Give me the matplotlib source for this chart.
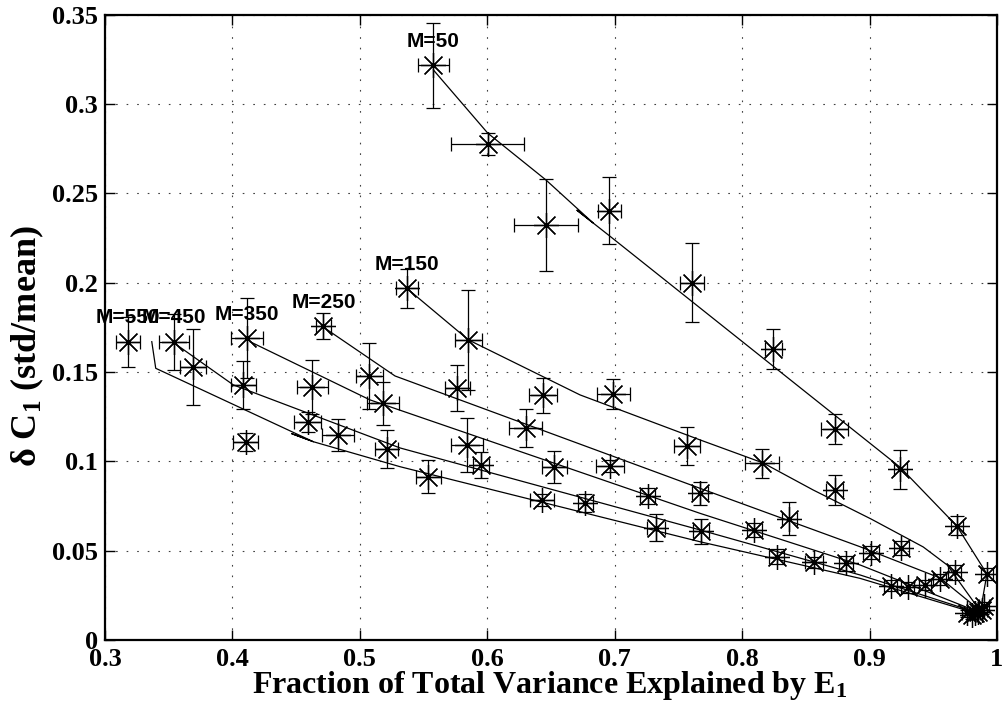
import numpy as np
import matplotlib
matplotlib.use("Agg")
import matplotlib.pyplot as plt

plt.rcParams["font.family"] = ["Liberation Serif", "DejaVu Serif"]
plt.rcParams["font.weight"] = "bold"
plt.rcParams["mathtext.fontset"] = "custom"
plt.rcParams["mathtext.rm"] = "Liberation Serif:bold"
plt.rcParams["mathtext.bf"] = "Liberation Serif:bold"
plt.rcParams["mathtext.default"] = "bf"

# window sizes
M_VALUES = [50, 150, 250, 350, 450, 550]

# measured points: fraction explained by E1, delta C1, and their spreads
m50_x = [0.5577, 0.6004, 0.6459, 0.6959, 0.7605, 0.8246, 0.8725, 0.9240, 0.9685, 0.9920, 0.9900]
m50_y = [0.3216, 0.2777, 0.2324, 0.2404, 0.2001, 0.1629, 0.1180, 0.0955, 0.0640, 0.0370, 0.0190]
m50_xerr = [0.0124, 0.0288, 0.0249, 0.0094, 0.0092, 0.0065, 0.0107, 0.0052, 0.0045, 0.0045, 0.0040]
m50_yerr = [0.0236, 0.0060, 0.0258, 0.0188, 0.0221, 0.0113, 0.0085, 0.0110, 0.0053, 0.0033, 0.0020]

m150_x = [0.5368, 0.5852, 0.6440, 0.6990, 0.7565, 0.8154, 0.8725, 0.9248, 0.9667, 0.9880]
m150_y = [0.1969, 0.1680, 0.1369, 0.1377, 0.1088, 0.0989, 0.0840, 0.0515, 0.0378, 0.0168]
m150_xerr = [0.0088, 0.0105, 0.0109, 0.0131, 0.0101, 0.0134, 0.0063, 0.0060, 0.0050, 0.0040]
m150_yerr = [0.0110, 0.0282, 0.0098, 0.0083, 0.0107, 0.0082, 0.0082, 0.0040, 0.0042, 0.0020]

m250_x = [0.4714, 0.5075, 0.5766, 0.6301, 0.6964, 0.7670, 0.8371, 0.9013, 0.9549, 0.9854]
m250_y = [0.1758, 0.1478, 0.1413, 0.1185, 0.0974, 0.0821, 0.0680, 0.0489, 0.0340, 0.0159]
m250_xerr = [0.0060, 0.0108, 0.0098, 0.0127, 0.0110, 0.0061, 0.0060, 0.0065, 0.0050, 0.0040]
m250_yerr = [0.0075, 0.0183, 0.0129, 0.0107, 0.0035, 0.0063, 0.0090, 0.0038, 0.0030, 0.0020]

m350_x = [0.4112, 0.4627, 0.5180, 0.5838, 0.6527, 0.7259, 0.8094, 0.8814, 0.9436, 0.9828]
m350_y = [0.1689, 0.1418, 0.1325, 0.1092, 0.0970, 0.0806, 0.0616, 0.0429, 0.0308, 0.0153]
m350_xerr = [0.0124, 0.0124, 0.0126, 0.0126, 0.0098, 0.0059, 0.0059, 0.0056, 0.0050, 0.0040]
m350_yerr = [0.0224, 0.0152, 0.0120, 0.0152, 0.0090, 0.0047, 0.0039, 0.0040, 0.0030, 0.0020]

m450_x = [0.3542, 0.4086, 0.4591, 0.5211, 0.5951, 0.6768, 0.7678, 0.8565, 0.9300, 0.9803]
m450_y = [0.1670, 0.1428, 0.1222, 0.1070, 0.0980, 0.0765, 0.0610, 0.0435, 0.0295, 0.0140]
m450_xerr = [0.0119, 0.0095, 0.0105, 0.0090, 0.0060, 0.0059, 0.0063, 0.0072, 0.0050, 0.0040]
m450_yerr = [0.0157, 0.0135, 0.0057, 0.0107, 0.0075, 0.0050, 0.0070, 0.0030, 0.0030, 0.0020]

m550_x = [0.3178, 0.3688, 0.4104, 0.4826, 0.5538, 0.6427, 0.7325, 0.8272, 0.9167, 0.9765]
m550_y = [0.1670, 0.1527, 0.1110, 0.1148, 0.0914, 0.0784, 0.0629, 0.0467, 0.0304, 0.0149]
m550_xerr = [0.0094, 0.0102, 0.0100, 0.0127, 0.0095, 0.0094, 0.0069, 0.0060, 0.0050, 0.0040]
m550_yerr = [0.0140, 0.0212, 0.0050, 0.0090, 0.0093, 0.0032, 0.0076, 0.0040, 0.0030, 0.0020]

# predicted curves (kept in plotting order, including the small back-steps)
m50_fit_x = [0.5577, 0.6004, 0.6459, 0.6833, 0.6703, 0.6958, 0.9240, 0.9685, 0.9921, 0.9876]
m50_fit_y = [0.3191, 0.2837, 0.2576, 0.2333, 0.2406, 0.2263, 0.0967, 0.0638, 0.0370, 0.0185]
m150_fit_x = [0.5368, 0.5852, 0.6728, 0.7670, 0.8165, 0.8557, 0.9013, 0.9421, 0.9609, 0.9852]
m150_fit_y = [0.1969, 0.1680, 0.1372, 0.1120, 0.0991, 0.0840, 0.0677, 0.0521, 0.0420, 0.0179]
m250_fit_x = [0.4727, 0.5276, 0.7670, 0.8926, 0.9554, 0.9852]
m250_fit_y = [0.1745, 0.1478, 0.0849, 0.0522, 0.0347, 0.0174]
m350_fit_x = [0.4138, 0.5080, 0.7670, 0.8926, 0.9837]
m350_fit_y = [0.1670, 0.1344, 0.0709, 0.0420, 0.0162]
m450_fit_x = [0.3563, 0.4007, 0.5316, 0.7670, 0.8926, 0.9829]
m450_fit_y = [0.1652, 0.1428, 0.1075, 0.0616, 0.0364, 0.0157]
m550_fit_x = [0.3367, 0.3398, 0.4635, 0.4465, 0.4635, 0.5316, 0.7670, 0.8926, 0.9829]
m550_fit_y = [0.1670, 0.1521, 0.1110, 0.1155, 0.1110, 0.0970, 0.0550, 0.0345, 0.0151]

x_ticks = [0.3, 0.4, 0.5, 0.6, 0.7, 0.8, 0.9, 1.0]
x_tick_labels = ["0.3", "0.4", "0.5", "0.6", "0.7", "0.8", "0.9", "1"]
y_ticks = [0, 0.05, 0.1, 0.15, 0.2, 0.25, 0.3, 0.35]
y_tick_labels = ["0", "0.05", "0.1", "0.15", "0.2", "0.25", "0.3", "0.35"]

series = [
    (50, m50_x, m50_y, m50_xerr, m50_yerr, m50_fit_x, m50_fit_y),
    (150, m150_x, m150_y, m150_xerr, m150_yerr, m150_fit_x, m150_fit_y),
    (250, m250_x, m250_y, m250_xerr, m250_yerr, m250_fit_x, m250_fit_y),
    (350, m350_x, m350_y, m350_xerr, m350_yerr, m350_fit_x, m350_fit_y),
    (450, m450_x, m450_y, m450_xerr, m450_yerr, m450_fit_x, m450_fit_y),
    (550, m550_x, m550_y, m550_xerr, m550_yerr, m550_fit_x, m550_fit_y),
]

fig = plt.figure(figsize=(10.03, 7.09), dpi=100)
ax = fig.add_axes([0.1047, 0.0973, 0.8893, 0.8819])

for m, x, y, xe, ye, fx, fy in series:
    ax.plot(fx, fy, "-", color="k", lw=0.9, zorder=3)
    ax.errorbar(x, y, xerr=xe, yerr=ye, fmt="none", ecolor="k",
                elinewidth=0.9, capsize=5, capthick=0.9, zorder=4)
    ax.plot(x, y, ls="none", marker=(8, 2, 0), ms=18, mec="k", mfc="k", mew=0.9, zorder=5)
    ax.text(x[0], y[0] + 0.0102, f"M={m}", ha="center", va="baseline",
            fontsize=15, fontweight="bold", family=["Liberation Sans", "DejaVu Sans"], zorder=6)

ax.set_xlim(0.3, 1.0)
ax.set_ylim(0, 0.35)
ax.set_xticks(x_ticks)
ax.set_xticklabels(x_tick_labels)
ax.set_yticks(y_ticks)
ax.set_yticklabels(y_tick_labels)
ax.tick_params(direction="in", length=7, width=1, top=True, right=True,
               labelsize=19, colors="k")
ax.tick_params(axis="x", pad=6)
ax.tick_params(axis="y", pad=5)
ax.set_axisbelow(True)
ax.grid(True, color="0.25", linestyle=(0, (1.5, 8)), linewidth=0.8)
for s in ax.spines.values():
    s.set_linewidth(1.6)
    s.set_color("k")

fig.text(0.5484, 0.0226, "Fraction of Total Variance Explained by E$_1$",
         ha="center", va="baseline", fontsize=23, fontweight="bold")
fig.text(0.027, 0.5113, "δ C$_1$ (std/mean)", rotation=90,
         ha="center", va="center", fontsize=26, fontweight="bold")

fig.savefig("out.png", dpi=100)
